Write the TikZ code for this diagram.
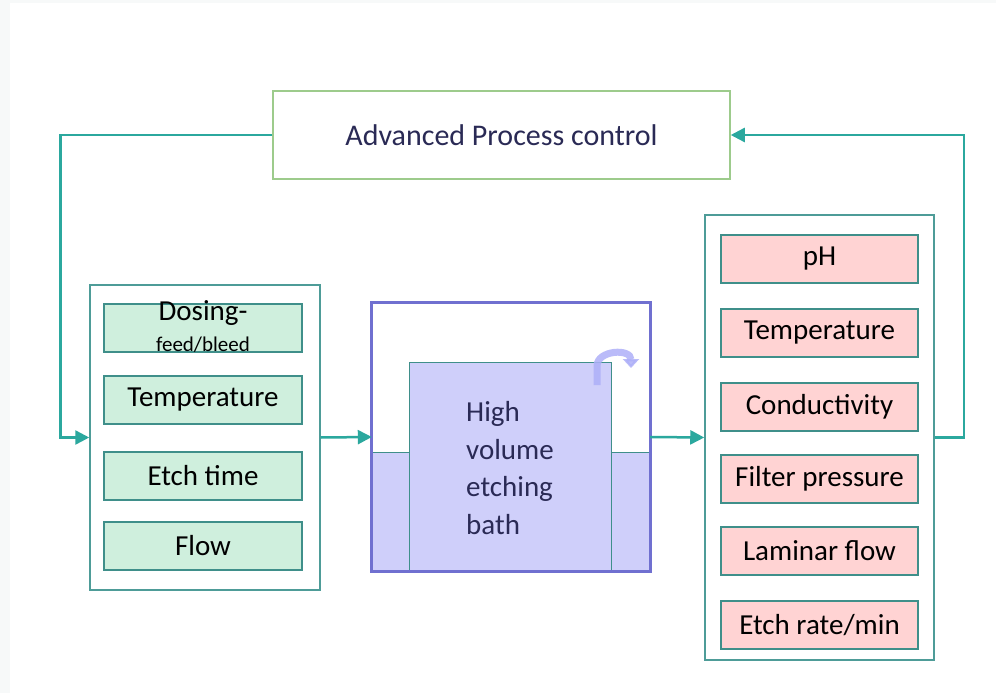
\documentclass[tikz,border=0pt]{standalone}
\usepackage{fontspec}
\setmainfont{Carlito}
\usetikzlibrary{positioning,arrows.meta}
\definecolor{tealline}{HTML}{2BA89E}
\definecolor{panelline}{HTML}{4E9C98}
\definecolor{boxline}{HTML}{3F8F8A}
\definecolor{apcline}{HTML}{9DCB8C}
\definecolor{greenfill}{HTML}{CFEFDD}
\definecolor{pinkfill}{HTML}{FFD3D3}
\definecolor{bathline}{HTML}{7070D0}
\definecolor{liquid}{HTML}{CFCFFA}
\definecolor{curlcol}{HTML}{AEB0F8}
\definecolor{navytext}{HTML}{2A2A55}
\definecolor{pagebg}{HTML}{F7F9F9}

\begin{document}
\begin{tikzpicture}[
x=1pt, y=-1pt,
greenbox/.style={draw=boxline, line width=1.5pt, fill=greenfill, minimum width=198pt, minimum height=48pt, inner sep=0pt, font=\fontsize{29}{30}\selectfont},
pinkbox/.style={draw=boxline, line width=1.5pt, fill=pinkfill, minimum width=197pt, minimum height=48pt, inner sep=0pt, font=\fontsize{29}{30}\selectfont},
link/.style={draw=tealline, line width=2.5pt, -{Triangle[length=14pt,width=14pt]}}
]
% page
\fill[pagebg] (0,0) rectangle (996,693);
\fill[white] (10,3) rectangle (996,693);
\useasboundingbox (0,0) rectangle (996,693);

% control unit
\node[draw=apcline, line width=1.5pt, minimum width=457pt, minimum height=88pt, text=navytext,
  font=\fontsize{30}{32}\selectfont] (apc) at (501.5,135) {Advanced Process control};

% inputs
\node[draw=panelline, line width=1.5pt, minimum width=230pt, minimum height=305pt] (leftpanel) at (205,437.5) {};
\node[greenbox] (dosing) at (203,328) {};
\node[inner sep=0pt, font=\fontsize{29}{30}\selectfont] (dosingtop) at (203,313) {Dosing-};
\node[inner sep=0pt, font=\fontsize{21}{22}\selectfont] (dosingsub) at (203,345) {feed/bleed};
\node[greenbox] (lefttemp) at (203,400) {Temperature};
\node[greenbox] (etchtime) at (203,476) {Etch time};
\node[greenbox] (flow) at (203,546) {Flow};

% bath
\node[minimum width=278pt, minimum height=268pt] (bath) at (511,437) {};
\fill[liquid] (372,452) rectangle (650,571);
\draw[boxline, line width=1pt] (372,452) -- (409,452) (611,452) -- (650,452);
\node[draw=boxline, line width=1pt, fill=liquid, minimum width=202pt, minimum height=209pt] (tank) at (510,466.5) {};
\draw[bathline, line width=3pt] (bath.north west) rectangle (bath.south east);
\node[anchor=west, align=left, text=navytext, inner sep=0pt,
  font=\fontsize{29}{37.5}\selectfont] (bathtext) at (466,468) {High\\volume\\etching\\bath};
\draw[curlcol, opacity=0.85, line width=7pt, -{Triangle[length=9pt,width=16pt]}]
  (597,385) -- (597,366) .. controls (597,350) and (631,348) .. (631,368);

% measurements
\node[draw=panelline, line width=1.5pt, minimum width=229pt, minimum height=445pt] (rightpanel) at (819.5,437.5) {};
\node[pinkbox] (ph) at (819.5,259) {pH};
\node[pinkbox] (righttemp) at (819.5,333) {Temperature};
\node[pinkbox] (conduct) at (819.5,407) {Conductivity};
\node[pinkbox] (filter) at (819.5,479) {Filter pressure};
\node[pinkbox] (laminar) at (819.5,551) {Laminar flow};
\node[pinkbox] (etchrate) at (819.5,625) {Etch rate/min};

% connectors
\draw[link] (apc.west) -- ++(-212,0) |- (leftpanel.west);
\draw[link] (leftpanel.east) -- (bath.west);
\draw[link] (bath.east) -- (rightpanel.west);
\draw[link] (rightpanel.east) -- ++(29,0) |- (apc.east);
\end{tikzpicture}
\end{document}
